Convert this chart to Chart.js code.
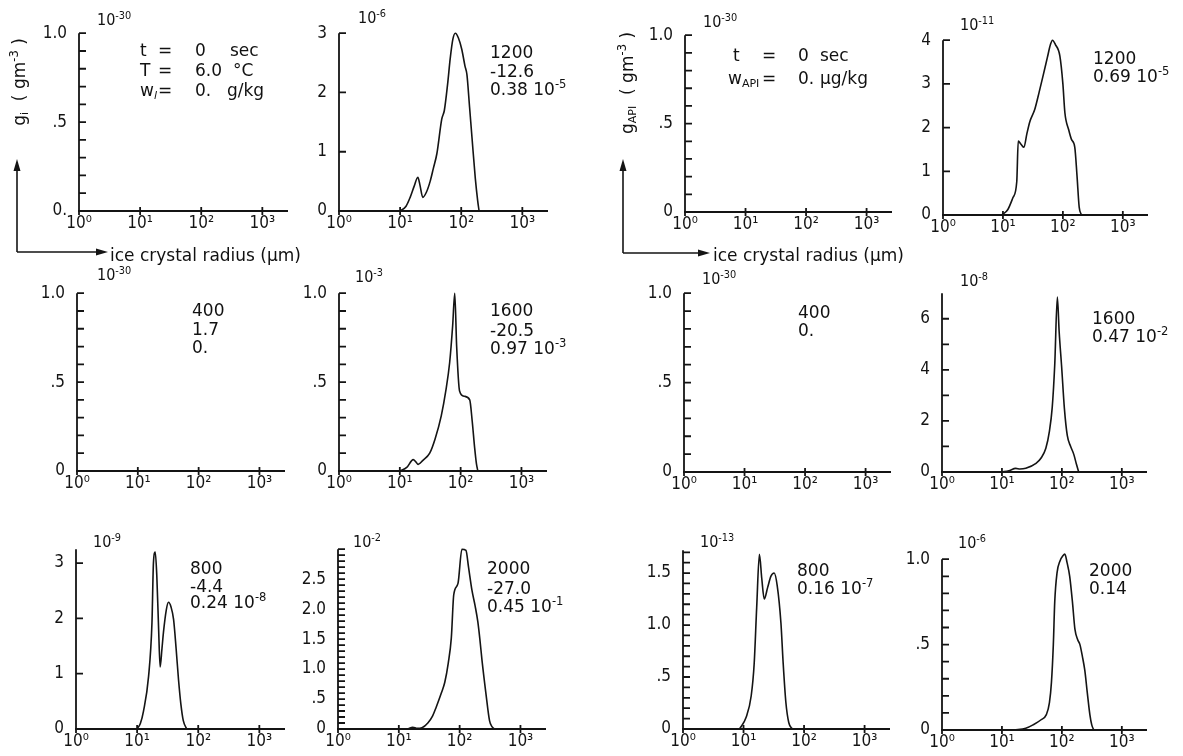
<!DOCTYPE html>
<html><head><meta charset="utf-8">
<script src="https://cdn.jsdelivr.net/npm/chart.js@4.4.1/dist/chart.umd.min.js"></script>
<style>
html,body{margin:0;padding:0;background:#fff;}
#page{position:relative;width:1183px;height:756px;overflow:hidden;font-family:'DejaVu Sans',sans-serif;color:#111;}
canvas{position:absolute;}
.t{position:absolute;white-space:nowrap;font-size:17px;line-height:1;transform:translateY(-50%);}
.e{position:absolute;white-space:nowrap;font-family:'DejaVu Sans Condensed','DejaVu Sans',sans-serif;font-size:16px;line-height:1;transform:translateY(-50%);}
.rot{position:absolute;white-space:nowrap;font-size:17px;line-height:1;transform:translate(-50%,-50%) rotate(-90deg);}
sup{font-size:68%;vertical-align:0.55em;line-height:0;}
sub{font-size:65%;vertical-align:-0.35em;line-height:0;}
svg{position:absolute;left:0;top:0;}
</style></head>
<body><div id="page"></div>
<script>
// ---------- data (radius in µm, value in units of the panel exponent) ----------
const radiusTicks = [1, 10, 100, 1000];
const radiusTickLabels = ['10⁰', '10¹', '10²', '10³'];

// ice crystals, t = 1200 s (×10^-6 g m^-3)
const ice1200_r = [10, 12.5, 14.6, 17, 19.5, 21, 23.5, 27, 31, 35, 40, 48, 53, 60, 66, 73, 80, 90, 102, 115, 124, 137, 150, 170, 186, 196];
const ice1200_g = [0, 0.08, 0.23, 0.42, 0.57, 0.45, 0.23, 0.32, 0.5, 0.72, 0.97, 1.55, 1.7, 2.15, 2.57, 2.9, 3.0, 2.92, 2.73, 2.45, 2.3, 1.75, 1.24, 0.55, 0.17, 0];
// aerosol in ice, t = 1200 s (×10^-11)
const api1200_r = [9.5, 12, 14.7, 17, 18, 20, 22.4, 25, 28, 34, 40, 47, 55, 62, 67, 75, 89, 100, 108, 125, 139, 158, 172, 187, 205];
const api1200_g = [0, 0.12, 0.4, 0.76, 1.69, 1.62, 1.55, 1.85, 2.13, 2.42, 2.8, 3.2, 3.6, 3.9, 4.0, 3.9, 3.64, 3.0, 2.34, 1.95, 1.73, 1.55, 0.9, 0.18, 0];
// ice, t = 1600 s (×10^-3)
const ice1600_r = [10, 13, 16.6, 18.5, 20, 24, 31, 38, 48, 57, 66, 74, 80, 86, 96, 115, 141, 155, 170, 182, 192];
const ice1600_g = [0, 0.02, 0.064, 0.05, 0.037, 0.06, 0.10, 0.18, 0.31, 0.45, 0.61, 0.82, 1.0, 0.7, 0.45, 0.42, 0.40, 0.28, 0.13, 0.04, 0];
// aerosol in ice, t = 1600 s (×10^-8)
const api1600_r = [10, 13, 17, 20, 25, 37, 45, 54, 62, 69, 76, 84, 90, 99, 110, 123, 140, 158, 175, 191];
const api1600_g = [0, 0.05, 0.14, 0.12, 0.15, 0.34, 0.55, 0.93, 1.6, 2.53, 4.2, 6.85, 5.5, 4.13, 2.5, 1.43, 1.0, 0.69, 0.3, 0];
// ice, t = 800 s (×10^-9)
const ice800_r = [9.9, 11.3, 12.7, 15.4, 17.5, 18.5, 19.8, 21, 22.5, 23.8, 25.5, 27, 30, 32.6, 36, 39.5, 43.5, 47.6, 52, 57, 65];
const ice800_g = [0, 0.1, 0.32, 0.95, 1.92, 3.0, 3.2, 2.77, 1.8, 1.12, 1.45, 1.75, 2.15, 2.29, 2.2, 1.98, 1.45, 0.89, 0.45, 0.15, 0];
// ice, t = 2000 s (×10^-2)
const ice2000_r = [14, 17, 20, 24, 30, 36, 41, 50, 57, 65, 73, 80, 94, 109, 127, 140, 159, 180, 199, 215, 233, 270, 310, 340, 375];
const ice2000_g = [0, 0.03, 0.01, 0.02, 0.1, 0.22, 0.36, 0.6, 0.78, 1.1, 1.52, 2.24, 2.43, 3.0, 2.98, 2.7, 2.32, 2.05, 1.79, 1.5, 1.15, 0.6, 0.14, 0.04, 0];
// aerosol in ice, t = 800 s (×10^-13)
const api800_r = [8.6, 11, 13.4, 15, 16.5, 18.3, 20, 22, 25, 28.4, 32, 36, 41.5, 45, 50, 56, 64];
const api800_g = [0, 0.11, 0.32, 0.63, 1.17, 1.68, 1.45, 1.25, 1.36, 1.47, 1.5, 1.38, 1.02, 0.65, 0.26, 0.06, 0];
// aerosol in ice, t = 2000 s (×10^-6)
const api2000_r = [16, 25, 33, 45, 55, 62, 67, 72, 76, 83, 93, 104, 112, 122, 135, 150, 165, 183, 200, 220, 241, 265, 293, 315, 340];
const api2000_g = [0, 0.01, 0.03, 0.06, 0.09, 0.16, 0.28, 0.5, 0.75, 0.92, 0.99, 1.02, 1.03, 0.98, 0.9, 0.75, 0.59, 0.53, 0.5, 0.43, 0.35, 0.22, 0.09, 0.03, 0];

// y tick values and labels per panel
const yUnitTicks = [0, 0.1, 0.2, 0.3, 0.4, 0.5, 0.6, 0.7, 0.8, 0.9, 1.0];
const yUnitLabels = ['0', '', '', '', '', '.5', '', '', '', '', '1.0'];
const yUnitLabels0 = ['0.', '', '', '', '', '.5', '', '', '', '', '1.0'];
const y3Ticks = [0, 1, 2, 3];          const y3Labels = ['0', '1', '2', '3'];
const y4Ticks = [0, 1, 2, 3, 4];       const y4Labels = ['0', '1', '2', '3', '4'];
const y6Ticks = [0, 1, 2, 3, 4, 5, 6]; const y6Labels = ['0', '', '2', '', '4', '', '6'];
const y30Ticks = [0,0.1,0.2,0.3,0.4,0.5,0.6,0.7,0.8,0.9,1.0,1.1,1.2,1.3,1.4,1.5,1.6,1.7,1.8,1.9,2.0,2.1,2.2,2.3,2.4,2.5,2.6,2.7,2.8,2.9,3.0];
const y30Labels = ['0','','','','','.5','','','','','1.0','','','','','1.5','','','','','2.0','','','','','2.5','','','','',''];
const y17Ticks = [0,0.1,0.2,0.3,0.4,0.5,0.6,0.7,0.8,0.9,1.0,1.1,1.2,1.3,1.4,1.5,1.6,1.7];
const y17Labels = ['0','','','','','.5','','','','','1.0','','','','','1.5','',''];

// ---------- layout (pixel placement of each panel's axes) ----------
const X_MAX = 2630;
const layouts = [
  {ax: 79,  top: 23,  bottom: 211, w: 209},
  {ax: 339, top: 23,  bottom: 211, w: 209},
  {ax: 685, top: 25,  bottom: 212, w: 207},
  {ax: 943, top: 30,  bottom: 215, w: 205},
  {ax: 77,  top: 283, bottom: 471, w: 208},
  {ax: 339, top: 283, bottom: 471, w: 208},
  {ax: 684, top: 283, bottom: 472, w: 207},
  {ax: 942, top: 283, bottom: 472, w: 205},
  {ax: 76,  top: 539, bottom: 729, w: 209},
  {ax: 338, top: 539, bottom: 729, w: 208},
  {ax: 683, top: 540, bottom: 729, w: 207},
  {ax: 942, top: 549, bottom: 730, w: 205}
];

const panels = [
  {r: null, g: null, ymax: 1.0, yt: yUnitTicks, yl: yUnitLabels0},
  {r: ice1200_r, g: ice1200_g, ymax: 3, yt: y3Ticks, yl: y3Labels},
  {r: null, g: null, ymax: 1.0, yt: yUnitTicks, yl: yUnitLabels},
  {r: api1200_r, g: api1200_g, ymax: 4, yt: y4Ticks, yl: y4Labels},
  {r: null, g: null, ymax: 1.0, yt: yUnitTicks, yl: yUnitLabels},
  {r: ice1600_r, g: ice1600_g, ymax: 1.0, yt: yUnitTicks, yl: yUnitLabels},
  {r: null, g: null, ymax: 1.0, yt: yUnitTicks, yl: yUnitLabels},
  {r: api1600_r, g: api1600_g, ymax: 7, yt: y6Ticks, yl: y6Labels},
  {r: ice800_r, g: ice800_g, ymax: 3.25, yt: y3Ticks, yl: y3Labels},
  {r: ice2000_r, g: ice2000_g, ymax: 3.0, yt: y30Ticks, yl: y30Labels},
  {r: api800_r, g: api800_g, ymax: 1.72, yt: y17Ticks, yl: y17Labels},
  {r: api2000_r, g: api2000_g, ymax: 1.0, yt: yUnitTicks, yl: yUnitLabels}
];

const FONT = "'DejaVu Sans Condensed', 'DejaVu Sans', sans-serif";
const INK = '#141414';

const axisPlugin = {
  id: 'plotterAxes',
  afterDraw(chart) {
    const ctx = chart.ctx, xs = chart.scales.x, ys = chart.scales.y;
    const x0 = xs.getPixelForValue(1), x1 = xs.getPixelForValue(X_MAX);
    const y0 = ys.getPixelForValue(0), y1 = ys.getPixelForValue(ys.max);
    ctx.save();
    ctx.strokeStyle = INK; ctx.lineWidth = 1.8; ctx.lineCap = 'butt';
    ctx.beginPath();
    ctx.moveTo(x0, y1); ctx.lineTo(x0, y0);
    ctx.moveTo(x0 - 1, y0); ctx.lineTo(x1, y0);
    ys.ticks.forEach(t => { const py = ys.getPixelForValue(t.value); ctx.moveTo(x0, py); ctx.lineTo(x0 + 7, py); });
    xs.ticks.forEach(t => { const px = xs.getPixelForValue(t.value); ctx.moveTo(px, y0 - 4); ctx.lineTo(px, y0 + 4); });
    ctx.stroke();
    ctx.restore();
  }
};

const PADL = 50, PADT = 12, PADR = 8, XH = 30;
const page = document.getElementById('page');

panels.forEach((p, k) => {
  const L = layouts[k];
  const cw = L.w + PADL + PADR, ch = (L.bottom - L.top) + PADT + XH;
  const cv = document.createElement('canvas');
  cv.width = cw; cv.height = ch;
  cv.style.width = cw + 'px'; cv.style.height = ch + 'px';
  cv.style.left = (L.ax - PADL) + 'px'; cv.style.top = (L.top - PADT) + 'px';
  page.appendChild(cv);
  const datasets = p.r ? [{
    data: p.r.map((r, i) => ({x: r, y: p.g[i]})),
    borderColor: INK, borderWidth: 1.6, pointRadius: 0, fill: false,
    cubicInterpolationMode: 'monotone', clip: false
  }] : [];
  new Chart(cv, {
    type: 'line',
    data: {datasets},
    options: {
      responsive: false, animation: false, devicePixelRatio: 1,
      layout: {padding: {top: PADT, right: PADR, left: 0, bottom: 0}},
      plugins: {legend: {display: false}, tooltip: {enabled: false}},
      scales: {
        x: {
          type: 'logarithmic', min: 1, max: X_MAX,
          afterFit(s) { s.height = XH; },
          afterBuildTicks(s) { s.ticks = radiusTicks.map(v => ({value: v})); },
          ticks: {autoSkip: false, maxRotation: 0, minRotation: 0, padding: 2, color: INK,
                  font: {family: FONT, size: 17},
                  callback: v => radiusTickLabels[radiusTicks.indexOf(v)] ?? ''},
          grid: {display: false, drawTicks: false}, border: {display: false}
        },
        y: {
          type: 'linear', min: 0, max: p.ymax,
          afterFit(s) { s.width = PADL; },
          afterBuildTicks(s) { s.ticks = p.yt.map(v => ({value: v})); },
          ticks: {autoSkip: false, padding: 12, color: INK, font: {family: FONT, size: 17},
                  callback: v => { const i = p.yt.findIndex(t => Math.abs(t - v) < 1e-9); return i >= 0 ? p.yl[i] : ''; }},
          grid: {display: false, drawTicks: false}, border: {display: false}
        }
      }
    },
    plugins: [axisPlugin]
  });
});

// ---------- annotations ----------
const exps = [
  [97, 20, '-30'], [358, 18, '-6'], [703, 22, '-30'], [960, 25, '-11'],
  [97, 275, '-30'], [355, 277, '-3'], [702, 279, '-30'], [960, 281, '-8'],
  [93, 542, '-9'], [353, 542, '-2'], [700, 542, '-13'], [958, 543, '-6']
];
exps.forEach(([x, y, e]) => {
  const d = document.createElement('div'); d.className = 'e';
  d.style.left = x + 'px'; d.style.top = y + 'px';
  d.innerHTML = '10<sup>' + e + '</sup>'; page.appendChild(d);
});

const texts = [
  // panel 1 header
  [140, 50, 't'], [158, 50, '='], [195, 50, '0'], [230, 50, 'sec'],
  [140, 70, 'T'], [158, 70, '='], [195, 70, '6.0'], [233, 70, '°C'],
  [140, 90, 'w<sub><i>l</i></sub>'], [158, 90, '='], [195, 90, '0.'], [227, 90, 'g/kg'],
  // panel 3 header
  [733, 55, 't'], [762, 55, '='], [798, 55, '0'], [820, 55, 'sec'],
  [728, 78, 'w<sub>API</sub>'], [762, 78, '='], [798, 78, '0.'], [820, 78, 'μg/kg'],
  // time / temperature / content labels
  [490, 52, '1200'], [490, 71, '-12.6'], [490, 89, '0.38 10<sup>-5</sup>'],
  [1093, 58, '1200'], [1093, 76, '0.69 10<sup>-5</sup>'],
  [192, 310, '400'], [192, 329, '1.7'], [192, 347, '0.'],
  [490, 310, '1600'], [490, 330, '-20.5'], [490, 348, '0.97 10<sup>-3</sup>'],
  [798, 312, '400'], [798, 330, '0.'],
  [1092, 318, '1600'], [1092, 336, '0.47 10<sup>-2</sup>'],
  [190, 568, '800'], [190, 586, '-4.4'], [190, 602, '0.24 10<sup>-8</sup>'],
  [487, 568, '2000'], [487, 588, '-27.0'], [487, 606, '0.45 10<sup>-1</sup>'],
  [797, 570, '800'], [797, 588, '0.16 10<sup>-7</sup>'],
  [1089, 570, '2000'], [1089, 588, '0.14'],
  // axis titles
  [110, 255, 'ice crystal radius (μm)'], [713, 255, 'ice crystal radius (μm)']
];
texts.forEach(([x, y, h]) => {
  const d = document.createElement('div'); d.className = 't';
  d.style.left = x + 'px'; d.style.top = y + 'px'; d.innerHTML = h; page.appendChild(d);
});

[[19, 82, 'g<sub>i</sub> &nbsp;( gm<sup>-3</sup> )'], [627, 83, 'g<sub>API</sub> &nbsp;( gm<sup>-3</sup> )']].forEach(([x, y, h]) => {
  const d = document.createElement('div'); d.className = 'rot';
  d.style.left = x + 'px'; d.style.top = y + 'px'; d.innerHTML = h; page.appendChild(d);
});

const svgNS = 'http://www.w3.org/2000/svg';
const svg = document.createElementNS(svgNS, 'svg');
svg.setAttribute('width', 1183); svg.setAttribute('height', 756);
svg.innerHTML =
  '<g stroke="#141414" stroke-width="1.6" fill="none">' +
  '<path d="M17 252 V168 M17 252 H98"/>' +
  '<path d="M623 253 V168 M623 253 H700"/>' +
  '</g><g fill="#141414">' +
  '<path d="M17 159 L13.5 171 L20.5 171 Z"/><path d="M108 252 L96 248.5 L96 255.5 Z"/>' +
  '<path d="M623 159 L619.5 171 L626.5 171 Z"/><path d="M710 253 L698 249.5 L698 256.5 Z"/>' +
  '</g>';
page.appendChild(svg);
</script>
</body></html>
